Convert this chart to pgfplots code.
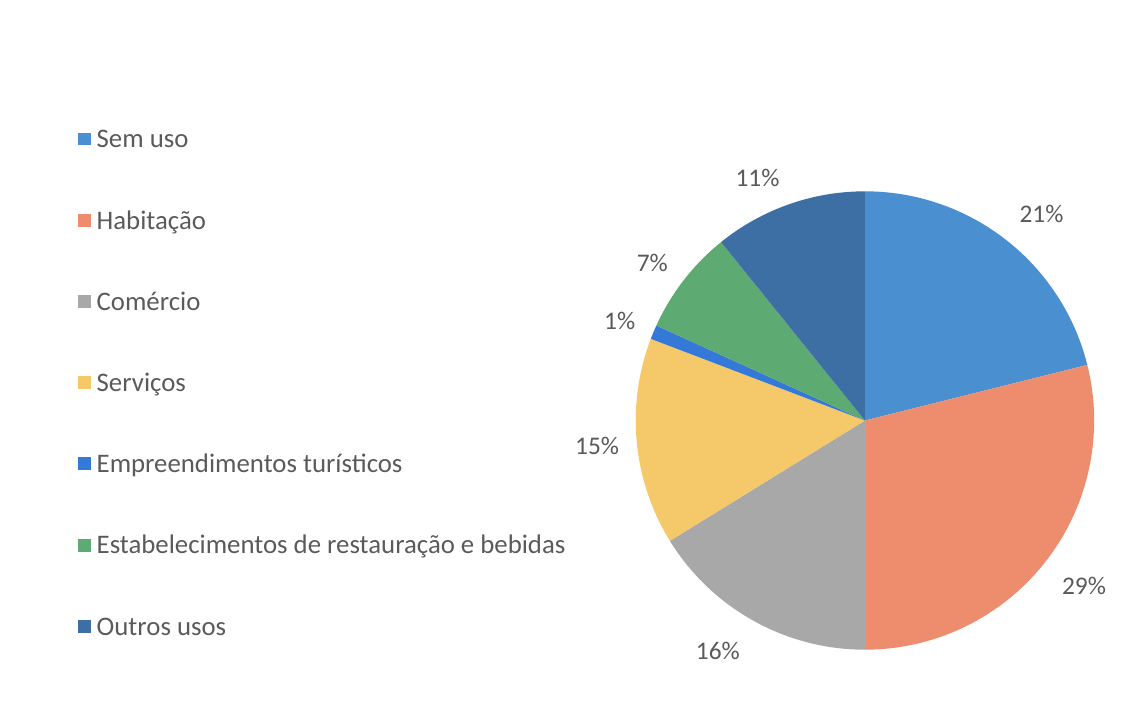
\documentclass[border=0pt]{standalone}
\usepackage{pgfplots}
\pgfplotsset{compat=1.18}
\usepackage{pgfplotstable}
\usepackage{fontspec}
\setmainfont{Carlito}
\definecolor{cSem}{HTML}{4A8FD0}
\definecolor{cHab}{HTML}{EE8D6E}
\definecolor{cCom}{HTML}{A8A8A8}
\definecolor{cSer}{HTML}{F5C86A}
\definecolor{cEmp}{HTML}{3478D8}
\definecolor{cEst}{HTML}{5DAA72}
\definecolor{cOut}{HTML}{3D6FA5}
\definecolor{txt}{HTML}{5A5A5A}
\begin{document}
\pgfplotstableread{
value
21.1
28.9
16.2
14.6
1.0
7.4
10.8
}\pietable
\def\cum{0}%
\pgfplotsforeachungrouped \i in {0,...,6}{%
  \pgfplotstablegetelem{\i}{value}\of\pietable
  \let\pieV\pgfplotsretval
  \pgfmathsetmacro\pieS{90-3.6*\cum}%
  \pgfmathsetmacro\cum{\cum+\pieV}%
  \pgfmathsetmacro\pieE{90-3.6*\cum}%
  \pgfmathsetmacro\pieM{(\pieS+\pieE)/2}%
  \expandafter\let\csname pieS\i\endcsname\pieS
  \expandafter\let\csname pieE\i\endcsname\pieE
  \expandafter\let\csname pieM\i\endcsname\pieM
  \expandafter\let\csname pieV\i\endcsname\pieV
}%
\newcommand\slice[3]{%
  \fill[#2] (axis cs:864,285) -- ++(\csname pieS#1\endcsname:46mm)
     arc[start angle=\csname pieS#1\endcsname, end angle=\csname pieE#1\endcsname, radius=46mm] -- cycle;
  \path (axis cs:864,285) ++(\csname pieM#1\endcsname:54mm)
     node[text=txt, font=\fontsize{14.5}{17}\selectfont, inner sep=0pt, #3]
     {\pgfmathprintnumber[fixed,precision=0,assume math mode=true]{\csname pieV#1\endcsname}\%};
}
\begin{tikzpicture}
\begin{axis}[
  x=0.2mm, y=0.2mm,
  xmin=0, xmax=1132, ymin=0, ymax=707,
  hide axis, clip=false,
  legend style={at={(axis cs:74,577)}, anchor=north west, draw=none, fill=none,
    inner sep=0pt, row sep=11.7mm, text=txt,
    font=\fontsize{15.3}{18}\selectfont,
    nodes={inner sep=0pt, text height=3.6mm, text depth=1.0mm},
    /tikz/every odd column/.append style={column sep=1.2mm}},
  legend cell align=left,
]
\path (axis cs:0,0) rectangle (axis cs:1132,707);
\slice{0}{cSem}{xshift=2.2mm, yshift=-1.2mm}
\slice{1}{cHab}{xshift=1.4mm}
\slice{2}{cCom}{xshift=-3.2mm, yshift=1mm}
\slice{3}{cSer}{}
\slice{4}{cEmp}{xshift=0.6mm, yshift=-0.8mm}
\slice{5}{cEst}{yshift=-1.4mm}
\slice{6}{cOut}{xshift=-3.6mm, yshift=-2.2mm}
\addlegendimage{legend image code/.code={\fill[cSem] (0mm,-0.7mm) rectangle (2.4mm,1.7mm);}}
\addlegendentry{Sem uso}
\addlegendimage{legend image code/.code={\fill[cHab] (0mm,-0.7mm) rectangle (2.4mm,1.7mm);}}
\addlegendentry{Habitação}
\addlegendimage{legend image code/.code={\fill[cCom] (0mm,-0.7mm) rectangle (2.4mm,1.7mm);}}
\addlegendentry{Comércio}
\addlegendimage{legend image code/.code={\fill[cSer] (0mm,-0.7mm) rectangle (2.4mm,1.7mm);}}
\addlegendentry{Serviços}
\addlegendimage{legend image code/.code={\fill[cEmp] (0mm,-0.7mm) rectangle (2.4mm,1.7mm);}}
\addlegendentry{Empreendimentos turísticos}
\addlegendimage{legend image code/.code={\fill[cEst] (0mm,-0.7mm) rectangle (2.4mm,1.7mm);}}
\addlegendentry{Estabelecimentos de restauração e bebidas}
\addlegendimage{legend image code/.code={\fill[cOut] (0mm,-0.7mm) rectangle (2.4mm,1.7mm);}}
\addlegendentry{Outros usos}
\end{axis}
\end{tikzpicture}
\end{document}
